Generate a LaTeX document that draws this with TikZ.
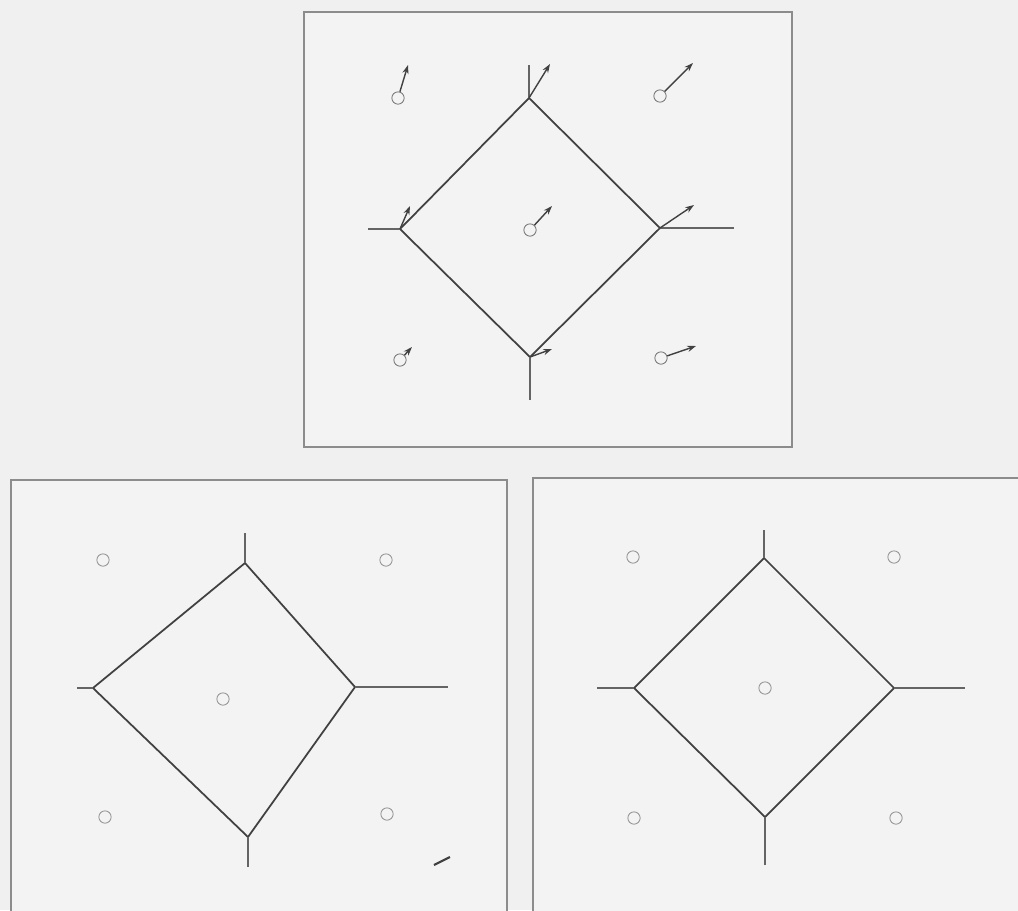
\documentclass[tikz,border=0pt]{standalone}
\usepackage{xcolor}
\usepackage{tikz}
\usetikzlibrary{arrows.meta, calc}
\definecolor{PageGrey}{RGB}{240, 240, 240}
\definecolor{PanelGrey}{RGB}{243, 243, 243}
\definecolor{FrameGrey}{RGB}{140, 140, 140}
\definecolor{EdgeDark}{RGB}{65, 65, 65}
\definecolor{StubGrey}{RGB}{100, 100, 100}
\definecolor{SiteGrey}{RGB}{150, 150, 150}

\begin{document}
\begin{tikzpicture}[
    x=0.02cm, y=-0.02cm,
    panel/.style={fill=PanelGrey, draw=FrameGrey, line width=0.8pt},
    edge/.style={draw=EdgeDark, line width=1pt},
    stub/.style={draw=StubGrey, line width=1.2pt},
    site/.style={circle, draw=SiteGrey, line width=0.5pt, fill=PanelGrey, minimum size=7pt, inner sep=0pt},
    drift/.style={draw=EdgeDark, line width=0.8pt, -{Stealth[length=5pt, width=3.5pt]}}
  ]
    \fill[PageGrey] (0,0) rectangle (1018,910);
    \useasboundingbox (0,0) rectangle (1018,910);
    \clip (0,0) rectangle (1018,910);

    % three panels
    \draw[panel] (304,12) rectangle (792,447);
    \draw[panel] (11,480) rectangle (507,930);
    \draw[panel] (533,478) rectangle (1040,930);

    % top panel: diamond with stubs
    \coordinate (tT) at (529,98);
    \coordinate (tL) at (400,229);
    \coordinate (tR) at (660,228);
    \coordinate (tB) at (530,357);
    \draw[edge] (tT) -- (tR) -- (tB) -- (tL) -- cycle;
    \draw[stub] (tT) -- ++(0,-33);
    \draw[stub] (tL) -- ++(-32,0);
    \draw[stub] (tR) -- ++(74,0);
    \draw[stub] (tB) -- ++(0,43);

    % top panel: sites
    \node[site, draw=EdgeDark!70] (t1) at (398,98) {};
    \node[site, draw=EdgeDark!70] (t2) at (660,96) {};
    \node[site, draw=EdgeDark!70] (t3) at (530,230) {};
    \node[site, draw=EdgeDark!70] (t4) at (400,360) {};
    \node[site, draw=EdgeDark!70] (t5) at (661,358) {};

    % top panel: drift arrows
    \draw[drift] (t1) -- (408,65);
    \draw[drift] (tT) -- (550,64);
    \draw[drift] (t2) -- (693,63);
    \draw[drift] (tL) -- (410,206);
    \draw[drift] (t3) -- (552,206);
    \draw[drift] (tR) -- (694,205);
    \draw[drift] (tB) -- (552,349);
    \draw[drift] (t4) -- (412,347);
    \draw[drift] (t5) -- (696,346);

    % bottom left panel
    \coordinate (lT) at (245,563);
    \coordinate (lL) at (93,688);
    \coordinate (lR) at (355,687);
    \coordinate (lB) at (248,837);
    \draw[edge] (lT) -- (lR) -- (lB) -- (lL) -- cycle;
    \draw[stub] (lT) -- ++(0,-30);
    \draw[stub] (lL) -- ++(-16,0);
    \draw[stub] (lR) -- ++(93,0);
    \draw[stub] (lB) -- ++(0,30);
    \node[site] (l1) at (103,560) {};
    \node[site] (l2) at (386,560) {};
    \node[site] (l3) at (223,699) {};
    \node[site] (l4) at (105,817) {};
    \node[site] (l5) at (387,814) {};
    \coordinate (lm) at (434,865);
    \draw[edge, line width=1.2pt] (lm) -- ++(16,-8);

    % bottom right panel
    \coordinate (rT) at (764,558);
    \coordinate (rL) at (634,688);
    \coordinate (rR) at (894,688);
    \coordinate (rB) at (765,817);
    \draw[edge] (rT) -- (rR) -- (rB) -- (rL) -- cycle;
    \draw[stub] (rT) -- ++(0,-28);
    \draw[stub] (rL) -- ++(-37,0);
    \draw[stub] (rR) -- ++(71,0);
    \draw[stub] (rB) -- ++(0,48);
    \node[site] (r1) at (633,557) {};
    \node[site] (r2) at (894,557) {};
    \node[site] (r3) at (765,688) {};
    \node[site] (r4) at (634,818) {};
    \node[site] (r5) at (896,818) {};
  \end{tikzpicture}
\end{document}
